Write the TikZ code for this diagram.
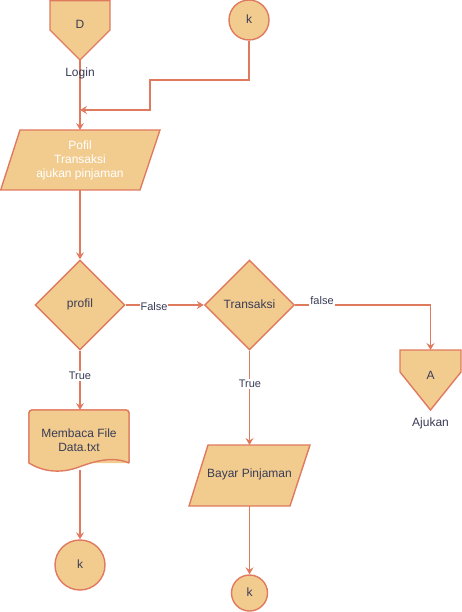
\documentclass[tikz,border=0pt]{standalone}
\usepackage{fontspec}
\setmainfont{Liberation Sans}
\usetikzlibrary{shapes.geometric,arrows.meta}
\definecolor{fillc}{HTML}{F2CC8F}
\definecolor{strokec}{HTML}{E07A5F}
\definecolor{textc}{HTML}{393C56}
\tikzset{
  symb/.style={draw=strokec, fill=fillc, line width=1.4pt, line join=miter},
  frame/.style={draw=none, inner sep=0pt, outer sep=0pt},
  txt/.style={text=textc, font=\fontsize{12}{14}\selectfont, inner sep=0pt, align=center},
  elabel/.style={text=textc, font=\fontsize{11}{13}\selectfont, fill=white, inner sep=1pt},
  flow/.style={draw=strokec, line width=1.1pt, -{Stealth[length=7pt,width=8pt,inset=2.5pt]}},
  plain/.style={draw=strokec, line width=1.1pt}
}
\begin{document}
\begin{tikzpicture}[x=1pt,y=-1pt]
\useasboundingbox (0,0) rectangle (462,612);

% off-page connector D (Login)
\node[frame, minimum width=60pt, minimum height=60pt] (D) at (80,30) {};
\draw[symb] (50,0.7) -- (110,0.7) -- (110,30) -- (80,60) -- (50,30) -- cycle;
\node[txt] (Dtext) at (80,24) {D};

% connector circle k at the top
\node[circle, symb, minimum size=40pt, inner sep=0pt] (ktop) at (249,20) {};
\node[txt] (ktoptext) at (249,19) {k};

% input: Pofil / Transaksi / ajukan pinjaman
\node[frame, minimum width=160pt, minimum height=60pt] (P) at (80,160) {};
\draw[symb] (20,130) -- (160,130) -- (140,190) -- (0.7,190) -- cycle;
\node[txt, text=white] (Ptext) at (80,160) {Pofil\\Transaksi\\ajukan pinjaman};

% decision: profil
\node[diamond, symb, minimum width=90pt, minimum height=90pt, inner sep=0pt, aspect=1] (dprof) at (80,305) {};
\node[txt] (dproftext) at (80,304) {profil};

% decision: Transaksi
\node[diamond, symb, minimum width=90pt, minimum height=90pt, inner sep=0pt, aspect=1] (dtrans) at (249.5,305) {};
\node[txt] (dtranstext) at (249.5,304) {Transaksi};

% off-page connector A (Ajukan)
\node[frame, minimum width=61pt, minimum height=60pt] (A) at (430.5,380) {};
\draw[symb] (400,350) -- (461,350) -- (461,372) -- (430.5,410) -- (400,372) -- cycle;
\node[txt] (Atext) at (430.5,375) {A};

% document: Membaca File Data.txt
\node[frame, minimum width=100pt, minimum height=60pt] (doc) at (79,440) {};
\draw[symb, rounded corners=3pt] (29,463) -- (29,410) -- (129,410) -- (129,463);
\fill[fillc] (29,412) rectangle (129,463);
\draw[symb, line join=round] (129,463) [sharp corners] -- (129,414)
   [rounded corners=3pt] -- (129,410) -- (29,410) [sharp corners] -- (29,463)
   .. controls (45,473) and (63,473) .. (79,467)
   .. controls (95,461) and (113,456) .. (129,463);
\node[txt] (doctext) at (79,440.5) {Membaca File\\Data.txt};

% input: Bayar Pinjaman
\node[frame, minimum width=121pt, minimum height=61pt] (B) at (249.5,475.5) {};
\draw[symb] (208,445) -- (310,445) -- (290,506) -- (189,506) -- cycle;
\node[txt] (Btext) at (249.5,474) {Bayar Pinjaman};

% connector circles k at the bottom
\node[circle, symb, minimum size=50pt, inner sep=0pt] (kleft) at (80,565) {};
\node[txt] (klefttext) at (80,564) {k};
\node[circle, symb, minimum size=36pt, inner sep=0pt] (kright) at (249.5,593) {};
\node[txt] (krighttext) at (249.5,592) {k};

% connectors
\coordinate (join) at (80,110);
\draw[flow] (D.south) -- (P.north);
\draw[flow] (ktop.south) -- (249,80) -- (150,80) -- (150,110) -- (join);
\draw[flow] (P.south) -- (dprof.north);
\draw[flow] (dprof.east) -- (dtrans.west);
\draw[flow] (dtrans.east) -- (430.5,305) -- (A.north);
\draw[flow] (dprof.south) -- (doc.north -| dprof.south);
\draw[flow] (80,470) -- (kleft.north);
\draw[flow] (dtrans.south) -- (B.north);
\draw[flow] (B.south) -- (kright.north);

% edge labels
\node[elabel] (lfalse1) at (154,307) {False};
\node[elabel] (lfalse2) at (322,301) {false};
\node[elabel] (ltrue1) at (80,376) {True};
\node[elabel] (ltrue2) at (250,384) {True};

% captions under the off-page connectors
\node[txt] (login) at (80,73) {Login};
\node[txt] (ajukan) at (430.5,423) {Ajukan};
\end{tikzpicture}
\end{document}
